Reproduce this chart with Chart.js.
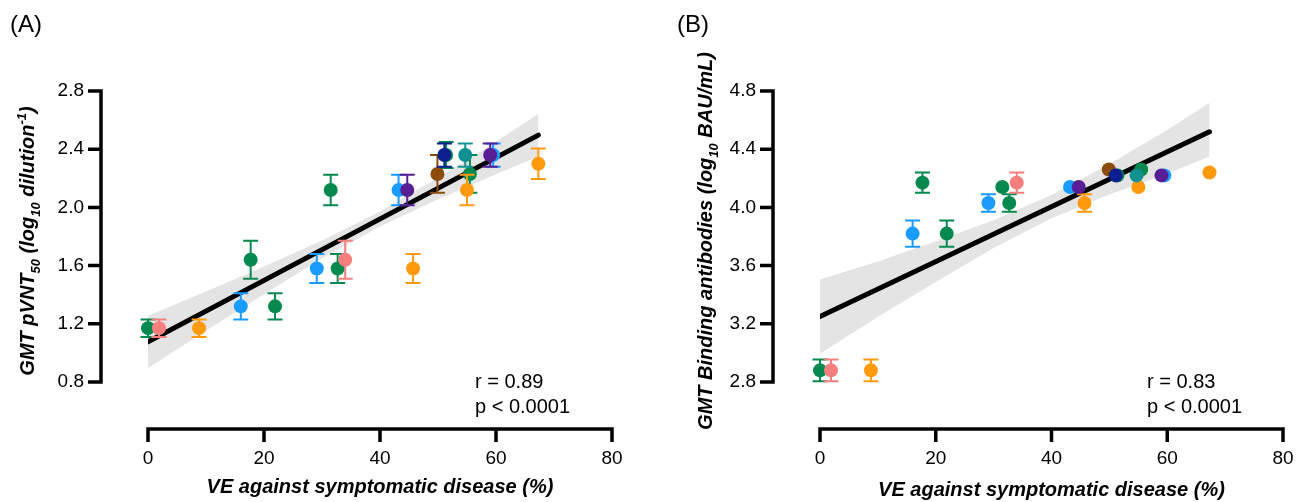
<!DOCTYPE html>
<html>
<head>
<meta charset="utf-8">
<script src="https://cdn.jsdelivr.net/npm/chart.js@4.4.1/dist/chart.umd.min.js"></script>
<style>
  html, body { margin: 0; padding: 0; background: #fff; }
  #wrap { position: relative; width: 1296px; height: 502px; }
  canvas { position: absolute; top: 0; }
  #chartA { left: 0; }
  #chartB { left: 648px; }
</style>
</head>
<body>
<div id="wrap">
  <canvas id="chartA" width="648" height="502"></canvas>
  <canvas id="chartB" width="648" height="502"></canvas>
</div>
<script>
// one entry per vaccine / study, same order in every array
const ve = [0, 1.9, 8.8, 16, 17.7, 21.9, 29.1, 31.5, 32.7, 34, 43.2, 44.7, 45.7, 49.9, 51.4, 51.1, 54.7, 55.0, 55.5, 59.5, 59.0, 67.3];
const vaccineGroup = ['green', 'pink', 'orange', 'blue', 'green', 'green', 'blue', 'green', 'green', 'pink', 'blue',
    'purple', 'orange', 'brown', 'green', 'navy', 'teal', 'orange', 'green', 'blue', 'purple', 'orange'];

// panel A: GMT pVNT50 (log10)
const pvnt50 = [1.17, 1.17, 1.17, 1.32, 1.64, 1.32, 1.58, 2.12, 1.58, 1.64, 2.12, 2.12, 1.58, 2.23, 2.36, 2.36, 2.36, 2.12, 2.23, 2.36, 2.36, 2.30];
const pvnt50Err = [0.06, 0.06, 0.06, 0.09, 0.13, 0.09, 0.10, 0.105, 0.10, 0.13, 0.105, 0.105, 0.10, 0.13, 0.09, 0.08, 0.08, 0.105, 0.13, 0.08, 0.08, 0.105];

// panel B: GMT binding antibodies (log10 BAU/mL)
const bindingAb = [2.88, 2.88, 2.88, 3.82, 4.17, 3.82, 4.03, 4.14, 4.03, 4.17, 4.14, 4.14, 4.03, 4.26, 4.22, 4.22, 4.22, 4.14, 4.26, 4.22, 4.22, 4.24];
const bindingAbErr = [0.075, 0.075, 0.075, 0.09, 0.07, 0.09, 0.06, 0, 0.06, 0.07, 0, 0, 0.06, 0, 0, 0, 0, 0, 0, 0, 0, 0];

// regression lines and 95% bands
const fitX = [0, 67.3];
const fitA = [1.076, 2.497];
const fitB = [3.25, 4.52];
const ciX = [0, 10, 20, 30, 40, 50, 60, 67.3];
const ciUpperA = [1.256, 1.422, 1.593, 1.772, 1.971, 2.204, 2.452, 2.644];
const ciLowerA = [0.896, 1.152, 1.403, 1.648, 1.869, 2.056, 2.228, 2.350];
const ciUpperB = [3.505, 3.629, 3.767, 3.911, 4.085, 4.298, 4.532, 4.720];
const ciLowerB = [2.995, 3.249, 3.487, 3.721, 3.925, 4.088, 4.232, 4.350];

const xTicks = [0, 20, 40, 60, 80];
const yTicksA = [0.8, 1.2, 1.6, 2.0, 2.4, 2.8];
const yTicksB = [2.8, 3.2, 3.6, 4.0, 4.4, 4.8];

// paint order, bottom first
const groupOrder = ['green', 'blue', 'orange', 'teal', 'pink', 'brown', 'navy', 'purple'];
const groupColors = {
    green: '#06894f', blue: '#1a9cff', orange: '#ff9a0e', teal: '#119191',
    pink: '#f57f7d', brown: '#8a4b0b', navy: '#0c1f8e', purple: '#581e96'
};

const FONT = "'Liberation Sans', Arial, sans-serif";
Chart.defaults.font.family = FONT;
Chart.defaults.color = '#000';

// error bars behind each dot, drawn with the dataset
const errorBars = {
    id: 'errorBars',
    beforeDatasetDraw(chart, args) {
        const ds = chart.data.datasets[args.index];
        if (!ds.errors) return;
        const ctx = chart.ctx, y = chart.scales.y;
        ctx.save();
        ctx.strokeStyle = ds.backgroundColor;
        ctx.lineWidth = 2;
        args.meta.data.forEach((pt, i) => {
            const e = ds.errors[i];
            if (!e) return;
            const v = ds.data[i].y;
            const top = y.getPixelForValue(v + e), bot = y.getPixelForValue(v - e);
            ctx.beginPath();
            ctx.moveTo(pt.x, top); ctx.lineTo(pt.x, bot);
            ctx.moveTo(pt.x - 7.5, top); ctx.lineTo(pt.x + 7.5, top);
            ctx.moveTo(pt.x - 7.5, bot); ctx.lineTo(pt.x + 7.5, bot);
            ctx.stroke();
        });
        ctx.restore();
    }
};

function drawRich(ctx, parts, x, y, size) {
    // returns total width when x is null
    let w = 0;
    parts.forEach(p => {
        const s = p[1] ? Math.round(size * 0.66) : size;
        ctx.font = 'italic bold ' + s + 'px ' + FONT;
        const off = p[1] === 'sub' ? size * 0.28 : (p[1] === 'sup' ? -size * 0.42 : 0);
        if (x !== null) ctx.fillText(p[0], x + w, y + off);
        w += ctx.measureText(p[0]).width;
    });
    return w;
}

// detached Prism-style axes and the panel texts
const panelDecor = {
    id: 'panelDecor',
    afterDraw(chart, args, opts) {
        const ctx = chart.ctx, xs = chart.scales.x, ys = chart.scales.y;
        const ca = chart.chartArea;
        const gap = opts.gap;
        const ax = ca.left - gap, ay = ca.bottom + gap;
        ctx.save();
        ctx.strokeStyle = '#000';
        ctx.lineWidth = 3.5;
        ctx.lineCap = 'butt';
        ctx.beginPath();
        ctx.moveTo(ax, ys.getPixelForValue(ys.max) - 1.75);
        ctx.lineTo(ax, ys.getPixelForValue(ys.min) + 1.75);
        opts.yTicks.forEach(t => {
            const py = ys.getPixelForValue(t);
            ctx.moveTo(ax - 13, py); ctx.lineTo(ax, py);
        });
        ctx.moveTo(xs.getPixelForValue(xs.min) - 1.75, ay);
        ctx.lineTo(xs.getPixelForValue(xs.max) + 1.75, ay);
        xTicks.forEach(t => {
            const px = xs.getPixelForValue(t);
            ctx.moveTo(px, ay); ctx.lineTo(px, ay + 13);
        });
        ctx.stroke();

        ctx.fillStyle = '#000';
        ctx.textBaseline = 'alphabetic';
        ctx.textAlign = 'left';
        ctx.font = '24px ' + FONT;
        ctx.fillText(opts.title, opts.titleX, 32);

        ctx.font = '20px ' + FONT;
        ctx.fillText(opts.r, ca.left + 327, 388);
        ctx.fillText('p < 0.0001', ca.left + 327, 413);

        // x axis title
        ctx.textAlign = 'center';
        ctx.font = 'italic bold 20px ' + FONT;
        ctx.fillText('VE against symptomatic disease (%)', (ca.left + ca.right) / 2, opts.xTitleY);

        // y axis title, rotated
        ctx.textAlign = 'left';
        const w = drawRich(ctx, opts.yTitle, null, 0, 20);
        ctx.translate(opts.yTitleX, 241);
        ctx.rotate(-Math.PI / 2);
        drawRich(ctx, opts.yTitle, -w / 2, 0, 20);
        ctx.restore();
    }
};

function buildDatasets(vals, errs, upper, lower, fit) {
    const sets = [];
    sets.push({
        type: 'line', data: ciX.map((x, i) => ({x: x, y: upper[i]})),
        borderWidth: 0, pointRadius: 0, fill: false, order: 100
    });
    sets.push({
        type: 'line', data: ciX.map((x, i) => ({x: x, y: lower[i]})),
        borderWidth: 0, pointRadius: 0, fill: '-1', backgroundColor: '#e4e4e4', order: 99
    });
    sets.push({
        type: 'line', data: fitX.map((x, i) => ({x: x, y: fit[i]})),
        borderColor: '#000', borderWidth: 5, pointRadius: 0, fill: false, order: 50,
        borderCapStyle: 'round'
    });
    groupOrder.forEach((g, k) => {
        const idx = [];
        vaccineGroup.forEach((vg, i) => { if (vg === g) idx.push(i); });
        sets.push({
            type: 'scatter',
            data: idx.map(i => ({x: ve[i], y: vals[i]})),
            errors: idx.map(i => errs[i]),
            backgroundColor: groupColors[g],
            borderWidth: 0,
            pointRadius: 7,
            clip: false,
            order: 20 - k
        });
    });
    return sets;
}

function makeChart(id, vals, errs, upper, lower, fit, yMin, yMax, yTicks, leftWidth, rightPad, decor) {
    return new Chart(document.getElementById(id), {
        type: 'scatter',
        data: {datasets: buildDatasets(vals, errs, upper, lower, fit)},
        options: {
            responsive: false,
            animation: false,
            layout: {padding: {top: 91, right: rightPad, left: 0, bottom: 0}},
            plugins: {
                legend: {display: false},
                tooltip: {enabled: false},
                panelDecor: Object.assign({yTicks: yTicks, gap: 47}, decor)
            },
            scales: {
                x: {
                    type: 'linear', min: 0, max: 80,
                    grid: {display: false, drawTicks: false},
                    border: {display: false},
                    afterBuildTicks: s => { s.ticks = xTicks.map(v => ({value: v})); },
                    ticks: {font: {size: 19}, padding: 65, color: '#000'},
                    afterFit: s => { s.height = 120; s.paddingLeft = 0; s.paddingRight = 0; }
                },
                y: {
                    type: 'linear', min: yMin, max: yMax,
                    grid: {display: false, drawTicks: false},
                    border: {display: false},
                    afterBuildTicks: s => { s.ticks = yTicks.map(v => ({value: v})); },
                    ticks: {font: {size: 19}, padding: 64, color: '#000', callback: v => v.toFixed(1)},
                    afterFit: s => { s.width = leftWidth; s.paddingTop = 0; s.paddingBottom = 0; }
                }
            }
        },
        plugins: [errorBars, panelDecor]
    });
}

makeChart('chartA', pvnt50, pvnt50Err, ciUpperA, ciLowerA, fitA, 0.8, 2.8, yTicksA, 148, 36, {
    title: '(A)', titleX: 10, r: 'r = 0.89', xTitleY: 493, yTitleX: 34,
    yTitle: [['GMT pVNT'], ['50', 'sub'], [' (log'], ['10', 'sub'], [' dilution'], ['-1', 'sup'], [')']]
});

makeChart('chartB', bindingAb, bindingAbErr, ciUpperB, ciLowerB, fitB, 2.8, 4.8, yTicksB, 172, 13, {
    title: '(B)', titleX: 29, r: 'r = 0.83', xTitleY: 496, yTitleX: 64,
    yTitle: [['GMT Binding antibodies (log'], ['10', 'sub'], [' BAU/mL)']]
});
</script>
</body>
</html>
